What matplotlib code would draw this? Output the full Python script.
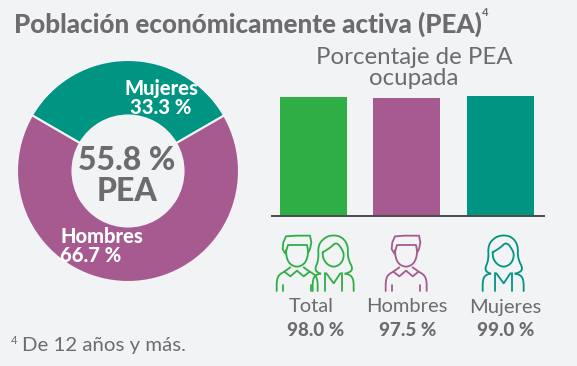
import numpy as np
import matplotlib
matplotlib.use('Agg')
import matplotlib.pyplot as plt

# Data
donut_labels = ['Mujeres', 'Hombres']
donut_values = [33.3, 66.7]
bar_labels = ['Total', 'Hombres', 'Mujeres']
bar_values = [98.0, 97.5, 99.0]

BG = '#f2f3f5'
GRAY = '#6c6c6f'
GREEN = '#2fae46'
PURPLE = '#a65a90'
TEAL = '#009482'

plt.rcParams['font.family'] = ['Lato', 'DejaVu Sans']

W, H = 577, 366
fig = plt.figure(figsize=(W / 100, H / 100), dpi=100, facecolor=BG)


def axes_px(x0, y0, x1, y1, **kw):
    # axes from pixel box, y measured from the top
    return fig.add_axes([x0 / W, 1 - y1 / H, (x1 - x0) / W, (y1 - y0) / H], **kw)


# Donut
ax_d = axes_px(17, 60, 239, 282)
ax_d.pie(donut_values, colors=[TEAL, PURPLE], startangle=30, counterclock=True,
         radius=1, wedgeprops=dict(width=0.5, edgecolor=BG, linewidth=1.5))
ax_d.set_xlim(-1, 1)
ax_d.set_ylim(-1, 1)

# Bars
ax_b = axes_px(271, 90, 545, 216)
ax_b.bar([0, 1, 2], bar_values, width=0.7166, color=[GREEN, PURPLE, TEAL])
ax_b.set_xlim(-0.4545, 2.476)
ax_b.set_ylim(0, 126 / 1.214)
ax_b.axis('off')

# Overlay in pixel coordinates for text and icons
ov = fig.add_axes([0, 0, 1, 1], facecolor='none')
ov.set_xlim(0, W)
ov.set_ylim(H, 0)
ov.axis('off')
ov.plot([271, 545], [216, 216], color='#4a4a4c', lw=1.4, solid_capstyle='butt')


def line(pts, ox, oy, color, smooth=True):
    # icon strokes are given in 3x pixels relative to the icon corner
    p = np.array(pts, dtype=float) / 3
    if smooth:
        # round off the corners a bit
        for _ in range(2):
            q = 0.75 * p[:-1] + 0.25 * p[1:]
            r = 0.25 * p[:-1] + 0.75 * p[1:]
            mid = np.empty((len(q) * 2, 2))
            mid[0::2] = q
            mid[1::2] = r
            p = np.vstack([p[0], mid, p[-1]])
    ov.plot(p[:, 0] + ox, p[:, 1] + oy, color=color, lw=1.3,
            solid_joinstyle='round', solid_capstyle='round')


def man(ox, oy, color):
    line([(30, 45), (32, 70), (42, 88), (63, 97), (84, 88), (94, 70), (97, 45)], ox, oy, color)
    line([(28, 56), (20, 42), (22, 22), (30, 4), (60, 2), (102, 2), (106, 22),
          (102, 42), (97, 52), (93, 30), (50, 30), (36, 30), (30, 50)], ox, oy, color, smooth=False)
    line([(43, 97), (25, 110), (43, 124), (63, 107), (83, 124), (101, 110), (83, 97)], ox, oy, color, smooth=False)
    line([(25, 110), (8, 120), (2, 138), (2, 168)], ox, oy, color)
    line([(101, 110), (118, 120), (125, 138), (125, 168)], ox, oy, color)
    line([(22, 150), (22, 168)], ox, oy, color)
    line([(105, 150), (105, 168)], ox, oy, color)


def woman(ox, oy, color):
    line([(25, 117), (7, 105), (20, 75), (18, 30), (40, 6), (65, 0), (90, 6), (108, 30), (107, 70),
          (125, 105), (100, 117)], ox, oy, color)
    line([(32, 52), (55, 38), (74, 20), (95, 50), (95, 70), (85, 88), (65, 97), (45, 88), (33, 70), (32, 52)], ox, oy, color)
    line([(43, 115), (65, 145), (85, 115)], ox, oy, color, smooth=False)
    line([(25, 115), (8, 122), (2, 138), (2, 168)], ox, oy, color)
    line([(100, 115), (118, 122), (125, 138), (125, 168)], ox, oy, color)
    line([(40, 115), (40, 168)], ox, oy, color)
    line([(90, 115), (90, 168)], ox, oy, color)


man(276, 235, GREEN)
woman(312, 235, GREEN)
man(385, 235, PURPLE)
woman(482, 235, TEAL)

# Texts
ov.text(14, 24, 'Población económicamente activa (PEA)', fontsize=18.7, fontweight='black',
        color=GRAY, va='center', ha='left')
ov.text(482, 13, '4', fontsize=8, fontweight='bold', color=GRAY, va='center', ha='left')
ov.text(414, 68, 'Porcentaje de PEA\nocupada', fontsize=17.3, color=GRAY, ha='center',
        va='center', linespacing=1.05)
ov.text(161, 98, f'{donut_labels[0]}\n{donut_values[0]} %', fontsize=14.5, fontweight='black',
        color='white', ha='center', va='center', linespacing=1.0)
ov.text(60, 246, f'{donut_labels[1]}\n{donut_values[1]} %', fontsize=14.5, fontweight='black',
        color='white', ha='left', va='center', linespacing=1.05)
ov.text(127, 176, '55.8 %\nPEA', fontsize=23, fontweight='black', color=GRAY, ha='center',
        va='center', linespacing=1.05)
for x, yl, lab, val in zip([311, 407, 505], [306, 306, 307], bar_labels, bar_values):
    ov.text(x, yl, lab, fontsize=14.5, color=GRAY, ha='center', va='center')
    ov.text(x + 5 if lab == 'Total' else x + 1, 331, f'{val:.1f} %', fontsize=13.5, fontweight='black',
            color=GRAY, ha='center', va='center')
ov.text(11, 341, '4', fontsize=8, color=GRAY, ha='left', va='center')
ov.text(22, 345, 'De 12 años y más.', fontsize=14.7, color=GRAY, ha='left', va='center')

fig.savefig('out.png', dpi=100, facecolor=BG)
